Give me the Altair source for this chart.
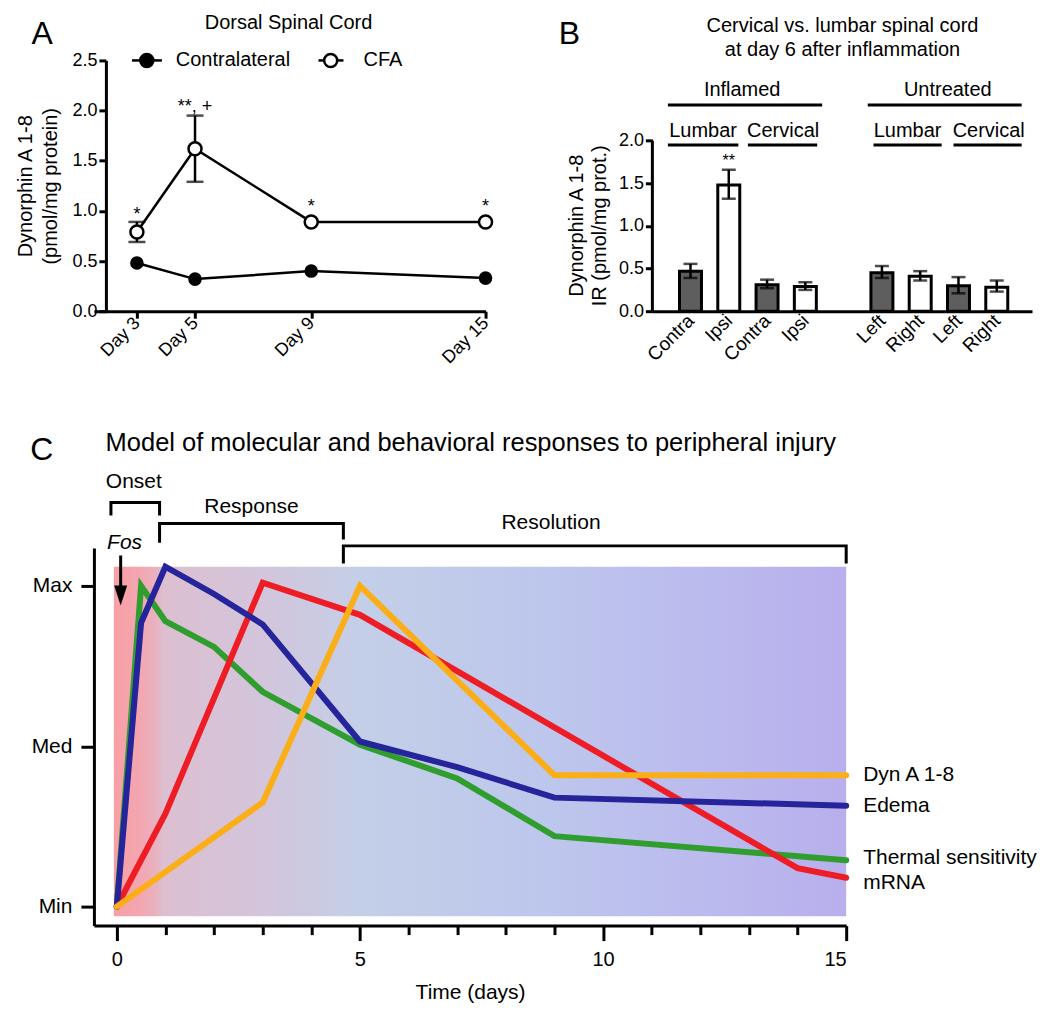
import altair as alt
import pandas as pd

FONT = "Liberation Sans"

# ---------------- Panel A : Dorsal spinal cord time course ----------------
a_days = [3, 5, 9, 15]
a_contra = [0.48, 0.32, 0.40, 0.33]
a_cfa = [0.79, 1.62, 0.89, 0.89]
a_err_days = [3, 5]
a_err_lo = [0.69, 1.29]
a_err_hi = [0.89, 1.95]
a_sig = ["*", "**, +", "*", "*"]
a_sig_y = [1.00, 2.08, 1.08, 1.08]
a_leg_names = ["Contralateral", "CFA"]
a_leg_fill = ["black", "white"]
a_leg_x0 = [2.83, 9.25]
a_leg_x1 = [3.86, 10.11]
a_leg_xm = [3.34, 9.67]
a_leg_xt = [4.34, 10.80]
a_leg_y = [2.5, 2.5]
a_title = "Dorsal Spinal Cord"

# ---------------- Panel B : cervical vs lumbar bars ----------------
b_pos = [1, 2, 3, 4, 6, 7, 8, 9]
b_labels = ["Contra", "Ipsi", "Contra", "Ipsi", "Left", "Right", "Left", "Right"]
b_vals = [0.47, 1.48, 0.31, 0.29, 0.45, 0.41, 0.30, 0.28]
b_lo = [0.39, 1.32, 0.27, 0.25, 0.39, 0.36, 0.21, 0.23]
b_hi = [0.555, 1.66, 0.37, 0.34, 0.53, 0.47, 0.40, 0.36]
b_shade = ["dark", "light", "dark", "light", "dark", "light", "dark", "light"]
b_grp_text = ["Inflamed", "Untreated"]
b_grp_x = [2.35, 7.72]
b_grp_x0 = [0.41, 5.63]
b_grp_x1 = [4.44, 9.65]
b_sub_text = ["Lumbar", "Cervical", "Lumbar", "Cervical"]
b_sub_x = [1.33, 3.42, 6.67, 8.79]
b_sub_x0 = [0.41, 2.50, 5.78, 7.87]
b_sub_x1 = [2.25, 4.31, 7.56, 9.65]
b_title = ["Cervical vs. lumbar spinal cord", "at day 6 after inflammation"]

# ---------------- Panel C : model ----------------
c_names = ["Thermal sensitivity", "mRNA", "Edema", "Dyn A 1-8"]
c_colors = ["#2f9e2f", "#ee1c25", "#25249a", "#fbae17"]
c_t = {
    "Thermal sensitivity": [0, 0.5, 1, 2, 3, 5, 7, 9, 15],
    "mRNA": [0, 1, 3, 5, 14, 15],
    "Edema": [0, 0.5, 1, 2, 3, 5, 7, 9, 15],
    "Dyn A 1-8": [0, 3, 5, 9, 15],
}
c_v = {
    "Thermal sensitivity": [0, 2.0, 1.78, 1.62, 1.34, 1.01, 0.80, 0.44, 0.29],
    "mRNA": [0, 0.58, 2.02, 1.82, 0.24, 0.18],
    "Edema": [0, 1.77, 2.12, 1.95, 1.76, 1.03, 0.87, 0.68, 0.63],
    "Dyn A 1-8": [0, 0.65, 2.0, 0.82, 0.82],
}
c_label_y = {"Dyn A 1-8": 0.82, "Edema": 0.63, "Thermal sensitivity": 0.305, "mRNA": 0.15}
c_levels = ["Min", "Med", "Max"]
c_phase = ["Onset", "Response", "Resolution"]
c_phase_tx = [0.35, 2.77, 8.93]
c_phase_ty = [2.65, 2.49, 2.39]
c_br_x0 = [-0.12, 0.88, 4.66]
c_br_x1 = [0.88, 4.66, 15]
c_br_top = [2.52, 2.39, 2.25]
c_br_left = [2.44, 2.27, 2.14]
c_br_right = [2.44, 2.29, 2.14]
c_bg_x = [-0.06, 15]
c_bg_y = [-0.06, 2.12]
c_title = "Model of molecular and behavioral responses to peripheral injury"

# =====================================================================
# Panel A
xA_scale = alt.Scale(domain=[1.52, 15], nice=False, zero=False)
yA_scale = alt.Scale(domain=[0, 2.5], nice=False, zero=False)
xA_axis = alt.Axis(values=a_days, labelExpr="'Day ' + datum.value", labelAngle=-45,
                   labelAlign="right", labelBaseline="middle", labelFontSize=18,
                   labelOverlap=False, tickSize=7, labelPadding=2, title=None)
yA_axis = alt.Axis(values=[0, 0.5, 1, 1.5, 2, 2.5], format=".1f", offset=-12, tickSize=7,
                   labelPadding=2, labelFontSize=18, labelOverlap=False,
                   title=["Dynorphin A 1-8", "(pmol/mg protein)"], titleFontSize=20,
                   titleLineHeight=25, titlePadding=11)


def XA(f):
    return alt.X(f, type="quantitative", scale=xA_scale, axis=xA_axis)


def YA(f):
    return alt.Y(f, type="quantitative", scale=yA_scale, axis=yA_axis)


dfA = pd.DataFrame({"day": a_days * 2, "value": a_contra + a_cfa,
                    "series": ["Contralateral"] * 4 + ["CFA"] * 4})
dfA_err = pd.DataFrame({"day": a_err_days, "lo": a_err_lo, "hi": a_err_hi})
dfA_sig = pd.DataFrame({"day": a_days, "y": a_sig_y, "t": a_sig})
dfA_leg = pd.DataFrame({"x0": a_leg_x0, "x1": a_leg_x1, "xm": a_leg_xm, "xt": a_leg_xt,
                        "y": a_leg_y, "name": a_leg_names, "fill": a_leg_fill})
dfA_txt = pd.DataFrame({"x": [8.22, -0.26], "y": [2.87, 2.76], "t": [a_title, "A"],
                        "size": [20, 32]})

A_lines = alt.Chart(dfA).mark_line(color="black", strokeWidth=2.5).encode(
    x=XA("day"), y=YA("value"), detail="series:N")
A_err = alt.Chart(dfA_err).mark_rule(color="black", strokeWidth=2.5).encode(
    x=XA("day"), y=YA("lo"), y2=alt.Y2("hi"))
A_cap_lo = alt.Chart(dfA_err).mark_tick(color="black", orient="horizontal", size=17,
                                        thickness=2.5).encode(x=XA("day"), y=YA("lo"))
A_cap_hi = alt.Chart(dfA_err).mark_tick(color="black", orient="horizontal", size=17,
                                        thickness=2.5).encode(x=XA("day"), y=YA("hi"))
A_pts_contra = alt.Chart(dfA).transform_filter("datum.series == 'Contralateral'").mark_point(
    filled=True, shape="circle", size=185, color="black", opacity=1).encode(
    x=XA("day"), y=YA("value"))
A_pts_cfa = alt.Chart(dfA).transform_filter("datum.series == 'CFA'").mark_point(
    filled=True, shape="circle", size=170, color="white", stroke="black", strokeWidth=2.5,
    opacity=1).encode(x=XA("day"), y=YA("value"))
A_sig = alt.Chart(dfA_sig).mark_text(fontSize=18, baseline="middle", dy=4).encode(
    x=XA("day"), y=YA("y"), text="t:N")
A_leg_line = alt.Chart(dfA_leg).mark_rule(color="black", strokeWidth=2.5).encode(
    x=XA("x0"), x2=alt.X2("x1"), y=YA("y"))
A_leg_pt = alt.Chart(dfA_leg).mark_point(filled=True, shape="circle", size=170,
                                         stroke="black", strokeWidth=2.5, opacity=1).encode(
    x=XA("xm"), y=YA("y"),
    fill=alt.Fill("fill:N", scale=None))
A_leg_txt = alt.Chart(dfA_leg).mark_text(fontSize=20, align="left", baseline="middle").encode(
    x=XA("xt"), y=YA("y"), text="name:N")
A_txt = alt.Chart(dfA_txt).mark_text(align="center", baseline="middle").encode(
    x=XA("x"), y=YA("y"), text="t:N", size=alt.Size("size:Q", scale=None))

panelA = alt.layer(A_lines, A_err, A_cap_lo, A_cap_hi, A_pts_contra, A_pts_cfa, A_sig,
                   A_leg_line, A_leg_pt, A_leg_txt, A_txt).properties(width=392, height=251)

# =====================================================================
# Panel B
xB_scale = alt.Scale(domain=[0.135, 9.79], nice=False, zero=False)
yB_scale = alt.Scale(domain=[0, 2.943], nice=False, zero=False)
label_arr = "[" + ",".join("'%s'" % s for s in ([""] + b_labels[:4] + [""] + b_labels[4:])) + "]"
xB_axis = alt.Axis(values=b_pos, labelExpr=label_arr + "[datum.value]", labelAngle=-45,
                   labelAlign="right", labelBaseline="middle", labelFontSize=19,
                   labelOverlap=False, ticks=False, labelPadding=6, title=None)
yB_axis = alt.Axis(values=[0, 0.5, 1, 1.5, 2], format=".1f", domain=False, tickSize=7,
                   labelPadding=2, labelFontSize=18, labelOverlap=False,
                   title=["Dynorphin A 1-8", "IR (pmol/mg prot.)"], titleFontSize=20,
                   titleLineHeight=23, titleY=165, titlePadding=9)


def XB(f):
    return alt.X(f, type="quantitative", scale=xB_scale, axis=xB_axis)


def YB(f):
    return alt.Y(f, type="quantitative", scale=yB_scale, axis=yB_axis)


dfB = pd.DataFrame({"pos": b_pos, "val": b_vals, "lo": b_lo, "hi": b_hi, "shade": b_shade})
dfB_grp = pd.DataFrame({"x": b_grp_x, "x0": b_grp_x0, "x1": b_grp_x1, "t": b_grp_text,
                        "ty": [2.60, 2.60], "ly": [2.42, 2.42]})
dfB_sub = pd.DataFrame({"x": b_sub_x, "x0": b_sub_x0, "x1": b_sub_x1, "t": b_sub_text,
                        "ty": [2.11] * 4, "ly": [1.95] * 4})
dfB_txt = pd.DataFrame({"x": [4.97, 4.97, -2.16, 2], "y": [3.35, 3.07, 3.25, 1.76],
                        "t": [b_title[0], b_title[1], "B", "**"], "size": [20, 20, 32, 16]})
dfB_axis = pd.DataFrame({"y0": [0], "y1": [2.0]})

B_axisline = alt.Chart(dfB_axis).mark_rule(color="black", strokeWidth=3).encode(
    x=alt.value(0), y=YB("y0"), y2=alt.Y2("y1"))
B_bars = alt.Chart(dfB).mark_bar(size=22, stroke="black", strokeWidth=3).encode(
    x=XB("pos"), y=YB("val"),
    color=alt.Color("shade:N", scale=alt.Scale(domain=["dark", "light"],
                                               range=["#5e5e5e", "#ffffff"]), legend=None))
B_err = alt.Chart(dfB).mark_rule(color="black", strokeWidth=2.5).encode(
    x=XB("pos"), y=YB("lo"), y2=alt.Y2("hi"))
B_cap_lo = alt.Chart(dfB).mark_tick(color="black", orient="horizontal", size=14,
                                    thickness=2.5).encode(x=XB("pos"), y=YB("lo"))
B_cap_hi = alt.Chart(dfB).mark_tick(color="black", orient="horizontal", size=14,
                                    thickness=2.5).encode(x=XB("pos"), y=YB("hi"))
B_grp_line = alt.Chart(dfB_grp).mark_rule(color="black", strokeWidth=3).encode(
    x=XB("x0"), x2=alt.X2("x1"), y=YB("ly"))
B_grp_txt = alt.Chart(dfB_grp).mark_text(fontSize=20, baseline="middle").encode(
    x=XB("x"), y=YB("ty"), text="t:N")
B_sub_line = alt.Chart(dfB_sub).mark_rule(color="black", strokeWidth=3).encode(
    x=XB("x0"), x2=alt.X2("x1"), y=YB("ly"))
B_sub_txt = alt.Chart(dfB_sub).mark_text(fontSize=20, baseline="middle").encode(
    x=XB("x"), y=YB("ty"), text="t:N")
B_txt = alt.Chart(dfB_txt).mark_text(align="center", baseline="middle").encode(
    x=XB("x"), y=YB("y"), text="t:N", size=alt.Size("size:Q", scale=None))

panelB = alt.layer(B_axisline, B_bars, B_err, B_cap_lo, B_cap_hi, B_grp_line, B_grp_txt,
                   B_sub_line, B_sub_txt, B_txt).properties(width=380, height=251)

# =====================================================================
# Panel C
xC_scale = alt.Scale(domain=[-0.47, 15], nice=False, zero=False)
yC_scale = alt.Scale(domain=[-0.118, 2.237], nice=False, zero=False)
xC_axis = alt.Axis(values=list(range(16)),
                   labelExpr="datum.value % 5 === 0 ? datum.label : ''",
                   tickSize={"condition": {"test": "datum.value % 5 === 0", "value": 15},
                             "value": 9},
                   labelOverlap=False, labelPadding=9, labelFontSize=20,
                   title="Time (days)", titleFontSize=21, titlePadding=12)
yC_axis = alt.Axis(values=[0, 1, 2],
                   labelExpr="['%s','%s','%s'][datum.value]" % tuple(c_levels),
                   tickSize=13, labelPadding=9, labelFontSize=21, title=None)


def XC(f):
    return alt.X(f, type="quantitative", scale=xC_scale, axis=xC_axis)


def YC(f):
    return alt.Y(f, type="quantitative", scale=yC_scale, axis=yC_axis)


dfC_bg = pd.DataFrame({"x0": [c_bg_x[0]], "x1": [c_bg_x[1]], "y0": [c_bg_y[0]],
                       "y1": [c_bg_y[1]]})
bg_grad = alt.LinearGradient(
    gradient="linear", x1=0, x2=1, y1=0, y2=0,
    stops=[alt.GradientStop(color="#f89fa5", offset=0.0),
           alt.GradientStop(color="#f3a6b0", offset=0.035),
           alt.GradientStop(color="#e8b2bf", offset=0.058),
           alt.GradientStop(color="#dcbfd0", offset=0.068),
           alt.GradientStop(color="#d3c5db", offset=0.2),
           alt.GradientStop(color="#c3cfe8", offset=0.34),
           alt.GradientStop(color="#bdc6ec", offset=0.6),
           alt.GradientStop(color="#bbbbee", offset=0.8),
           alt.GradientStop(color="#b8afec", offset=1.0)])
C_bg = alt.Chart(dfC_bg).mark_rect(color=bg_grad).encode(
    x=XC("x0"), x2=alt.X2("x1"), y=YC("y0"), y2=alt.Y2("y1"))

C_lines = []
for name, col in zip(c_names, c_colors):
    d = pd.DataFrame({"t": c_t[name], "v": c_v[name]})
    C_lines.append(alt.Chart(d).mark_line(color=col, strokeWidth=6, strokeCap="round",
                                          strokeJoin="miter", strokeMiterLimit=6).encode(
        x=XC("t"), y=YC("v")))

dfC_lab = pd.DataFrame({"name": list(c_label_y.keys()), "y": list(c_label_y.values()),
                        "x": [15] * 4})
C_lab = alt.Chart(dfC_lab).mark_text(align="left", baseline="middle", fontSize=21, dx=17).encode(
    x=XC("x"), y=YC("y"), text="name:N")

br_rows = []
for i in range(3):
    pts = [(c_br_x0[i], c_br_left[i]), (c_br_x0[i], c_br_top[i]),
           (c_br_x1[i], c_br_top[i]), (c_br_x1[i], c_br_right[i])]
    for k, (px, py) in enumerate(pts):
        br_rows.append({"b": c_phase[i], "k": k, "x": px, "y": py})
dfC_br = pd.DataFrame(br_rows)
C_br = alt.Chart(dfC_br).mark_line(color="black", strokeWidth=3, strokeJoin="miter").encode(
    x=XC("x"), y=YC("y"), detail="b:N", order="k:Q")
dfC_ph = pd.DataFrame({"t": c_phase, "x": c_phase_tx, "y": c_phase_ty})
C_ph = alt.Chart(dfC_ph).mark_text(fontSize=21, baseline="middle").encode(
    x=XC("x"), y=YC("y"), text="t:N")

dfC_fos = pd.DataFrame({"x": [0.16], "y": [2.27], "t": ["Fos"]})
C_fos = alt.Chart(dfC_fos).mark_text(fontSize=21, fontStyle="italic", baseline="middle").encode(
    x=XC("x"), y=YC("y"), text="t:N")
dfC_arrow = pd.DataFrame({"x": [0.08], "y0": [2.19], "y1": [2.0], "yh": [1.94]})
C_shaft = alt.Chart(dfC_arrow).mark_rule(color="black", strokeWidth=3).encode(
    x=XC("x"), y=YC("y0"), y2=alt.Y2("y1"))
C_head = alt.Chart(dfC_arrow).mark_point(shape="M-0.65,-1 L0.65,-1 L0,1 Z", filled=True,
                                         color="black", size=400, opacity=1).encode(
    x=XC("x"), y=YC("yh"))

dfC_txt = pd.DataFrame({"x": [-0.23, -1.54], "y": [2.89, 2.85], "t": [c_title, "C"]})
C_title = alt.Chart(dfC_txt.iloc[[0]]).mark_text(align="left", baseline="middle",
                                                  fontSize=25.5).encode(
    x=XC("x"), y=YC("y"), text="t:N")
C_letter = alt.Chart(dfC_txt.iloc[[1]]).mark_text(align="center", baseline="middle",
                                                   fontSize=32).encode(
    x=XC("x"), y=YC("y"), text="t:N")

panelC = alt.layer(C_bg, *C_lines, C_lab, C_br, C_ph, C_fos, C_shaft, C_head, C_title,
                   C_letter).properties(width=753, height=378)

top = alt.hconcat(panelA, panelB, spacing=167, bounds="flush")
chart = alt.vconcat(top, panelC, spacing=488, bounds="flush").configure(
    font=FONT, padding={"left": 7, "top": 4, "right": 5, "bottom": 5}
).configure_view(stroke=None).configure_axis(
    labelFont=FONT, titleFont=FONT, labelColor="black", titleColor="black",
    domainColor="black", tickColor="black", domainWidth=3, tickWidth=3, grid=False,
    titleFontWeight="normal", titleFontSize=18
).configure_text(font=FONT, color="black")

chart.save("out.html", embed_options={"renderer": "svg", "actions": False})
